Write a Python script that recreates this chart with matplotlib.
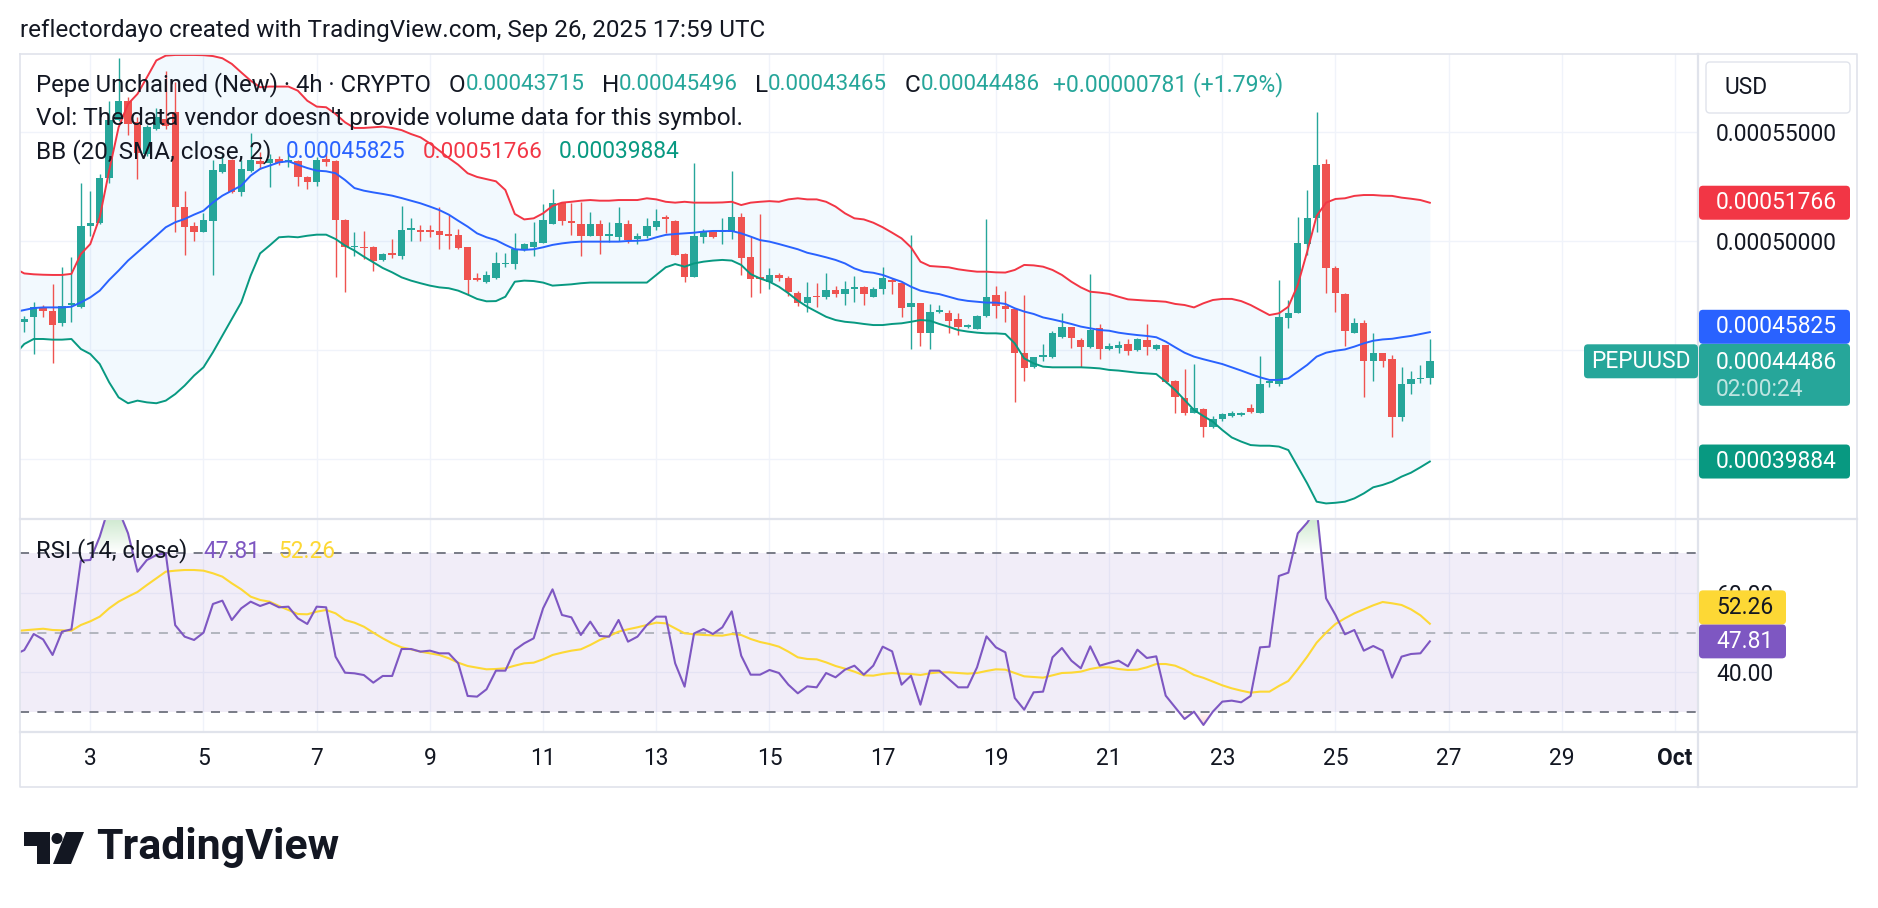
import numpy as np
import matplotlib
matplotlib.use("Agg")
import matplotlib.pyplot as plt
from matplotlib.patches import FancyBboxPatch, Polygon, Circle
from matplotlib.colors import LinearSegmentedColormap, to_rgb
from matplotlib.path import Path

plt.rcParams['font.family'] = ['Roboto', 'DejaVu Sans']
plt.rcParams['lines.scale_dashes'] = False

# ---------------- data (prices in units of 1e-5 USD) ----------------
UNIT = 1e-5
first_bar_day = 1 + 20 / 24      # Sep 1, 20:00 UTC (day of month)
bar_days = 4 / 24                # 4h bars

open_ = [46.27, 46.54, 46.93, 46.81, 46.26, 47.09, 46.96, 50.70, 50.82, 52.90,
         55.57, 56.45, 55.46, 54.00, 55.15, 55.60, 55.92, 51.59, 50.71, 50.44,
         50.94, 53.16, 53.73, 52.24, 53.21, 53.67, 53.57, 53.77, 53.62, 53.67,
         52.96, 52.73, 53.77, 53.67, 50.97, 49.72, 49.75, 49.75, 49.14, 49.44,
         49.34, 50.52, 50.52, 50.52, 50.48, 50.33, 50.28, 49.75, 48.31, 48.11,
         48.31, 48.95, 48.95, 49.60, 49.75, 49.93, 50.79, 51.74, 50.94, 50.79,
         50.24, 50.79, 50.24, 50.18, 50.79, 50.09, 50.24, 50.67, 51.10, 50.94,
         49.41, 48.37, 50.21, 50.44, 50.44, 50.44, 51.10, 49.26, 48.34, 48.14,
         48.45, 48.29, 47.64, 47.15, 47.48, 47.42, 47.76, 47.57, 47.79, 47.91,
         47.45, 47.79, 48.22, 48.07, 46.99, 47.15, 45.77, 46.76, 46.72, 46.41,
         46.05, 45.98, 46.57, 47.53, 47.03, 46.87, 44.88, 44.21, 44.70, 44.67,
         45.62, 46.05, 45.46, 45.16, 46.00, 45.03, 45.08, 45.28, 45.00, 45.46,
         45.03, 45.23, 43.60, 42.78, 42.13, 42.28, 41.45, 41.82, 41.97, 42.02,
         42.33, 42.10, 43.47, 43.44, 46.46, 46.69, 49.87, 51.05, 53.54, 48.75,
         47.58, 45.80, 46.23, 44.52, 44.85, 44.58, 41.91, 43.44, 43.66, 43.715]
high = [46.58, 47.19, 47.09, 48.04, 48.80, 49.26, 52.66, 52.32, 53.09, 56.45,
        58.41, 56.64, 55.69, 55.35, 56.12, 57.83, 57.29, 52.32, 50.87, 51.28,
        53.73, 54.00, 53.77, 53.73, 54.95, 54.08, 54.00, 53.93, 54.00, 53.73,
        53.01, 53.85, 54.00, 53.73, 51.02, 50.41, 50.45, 49.80, 49.44, 50.10,
        51.63, 51.06, 50.76, 50.76, 51.55, 51.22, 50.56, 49.75, 48.52, 48.62,
        49.49, 49.47, 50.36, 49.90, 50.90, 51.71, 52.38, 51.81, 51.77, 51.81,
        51.35, 50.97, 50.90, 51.59, 50.97, 50.36, 51.05, 51.46, 51.20, 50.97,
        49.44, 53.60, 50.54, 50.48, 51.05, 53.24, 51.28, 50.18, 51.25, 48.75,
        48.55, 48.40, 47.73, 48.14, 48.07, 48.52, 47.94, 48.19, 48.40, 47.94,
        47.91, 48.83, 48.29, 48.14, 50.29, 47.18, 47.12, 47.07, 46.84, 46.72,
        46.20, 46.61, 51.02, 47.94, 47.73, 46.92, 47.53, 44.70, 45.28, 45.89,
        46.69, 46.08, 45.54, 48.50, 46.20, 45.34, 45.43, 45.49, 45.54, 46.20,
        45.28, 45.23, 43.63, 44.12, 44.36, 42.33, 41.97, 42.10, 42.22, 42.17,
        42.53, 44.73, 43.63, 48.22, 47.30, 51.10, 52.35, 55.95, 53.76, 48.86,
        47.64, 46.46, 46.38, 45.77, 44.88, 44.78, 44.24, 44.06, 44.31, 45.496]
low = [45.82, 44.82, 46.54, 44.39, 46.12, 46.27, 46.93, 50.25, 50.79, 52.66,
       55.54, 54.89, 52.86, 53.93, 55.10, 55.15, 50.41, 49.38, 50.03, 50.41,
       48.46, 53.12, 52.20, 52.09, 53.16, 53.32, 52.47, 53.51, 53.42, 52.55,
       52.40, 52.55, 53.47, 48.34, 47.65, 49.34, 49.18, 48.62, 49.11, 49.23,
       49.18, 50.03, 50.03, 50.21, 49.64, 49.64, 49.64, 47.55, 48.16, 48.07,
       48.26, 48.80, 48.71, 49.55, 49.32, 49.90, 50.79, 50.74, 50.28, 49.32,
       50.24, 49.41, 49.98, 50.02, 49.90, 49.87, 50.13, 50.51, 50.39, 49.37,
       48.14, 48.37, 49.90, 50.13, 49.85, 50.09, 48.45, 47.45, 47.64, 47.79,
       48.19, 47.48, 47.02, 46.76, 46.96, 47.33, 47.42, 47.07, 47.22, 47.07,
       47.42, 47.57, 47.57, 46.54, 45.04, 45.19, 45.04, 46.72, 45.77, 45.69,
       46.00, 45.95, 46.50, 46.46, 46.31, 42.63, 43.60, 44.16, 44.51, 44.62,
       45.54, 45.08, 44.21, 45.08, 44.58, 45.00, 44.85, 44.78, 44.98, 44.78,
       45.00, 43.47, 42.10, 42.02, 42.10, 41.03, 41.41, 41.76, 41.94, 41.97,
       42.10, 42.10, 43.29, 43.35, 46.00, 46.69, 49.37, 50.44, 47.64, 46.77,
       45.19, 45.77, 42.86, 43.60, 44.21, 41.03, 41.76, 42.98, 43.50, 43.465]
close = [46.43, 46.96, 46.78, 46.17, 47.01, 47.15, 50.68, 50.82, 52.90, 55.57,
         56.45, 55.38, 54.03, 55.23, 55.69, 55.30, 51.59, 50.67, 50.44, 50.97,
         53.27, 53.54, 52.24, 53.32, 53.73, 53.54, 53.77, 53.57, 53.73, 52.96,
         52.70, 53.73, 53.62, 50.97, 49.75, 49.80, 49.69, 49.11, 49.41, 49.35,
         50.52, 50.61, 50.42, 50.42, 50.30, 50.25, 49.69, 48.22, 48.22, 48.46,
         48.98, 49.01, 49.63, 49.85, 49.98, 50.97, 51.74, 50.94, 50.85, 50.24,
         50.79, 50.24, 50.33, 50.85, 50.06, 50.24, 50.70, 50.94, 51.00, 49.37,
         48.37, 50.24, 50.48, 50.21, 50.48, 51.10, 49.21, 48.25, 48.28, 48.45,
         48.29, 47.68, 47.18, 47.45, 47.42, 47.76, 47.57, 47.79, 47.91, 47.57,
         47.79, 48.29, 48.14, 46.92, 47.15, 45.80, 46.76, 46.84, 46.35, 46.05,
         46.14, 46.57, 47.42, 47.03, 46.87, 44.88, 44.16, 44.67, 44.78, 45.80,
         46.05, 45.54, 45.16, 45.92, 45.03, 45.19, 45.23, 44.98, 45.49, 45.16,
         45.23, 43.55, 42.83, 42.13, 42.33, 41.45, 41.82, 42.07, 42.13, 42.10,
         42.17, 43.44, 43.60, 46.50, 46.69, 49.90, 51.05, 53.50, 48.75, 47.60,
         45.89, 46.26, 44.52, 44.85, 44.52, 41.91, 43.44, 43.66, 43.705, 44.486]

# Bollinger Bands (20, SMA, close, 2) - one extra leading bar (partly off-screen)
bb_upper = [48.75, 48.52, 48.48, 48.46, 48.45, 48.45, 48.50, 49.41, 49.87, 51.10,
            53.24, 55.23, 56.30, 56.76, 57.52, 58.30, 58.52, 58.55, 58.55, 58.55,
            58.54, 58.50, 58.40, 58.14, 57.75, 57.37, 57.07, 57.10, 57.10, 57.10,
            56.91, 56.45, 56.18, 56.15, 55.84, 55.46, 55.20, 55.20, 55.23, 55.26,
            55.20, 55.10, 54.92, 54.77, 54.49, 54.16, 53.82, 53.51, 53.12, 52.95,
            52.85, 52.75, 52.35, 51.25, 51.00, 51.05, 51.28, 51.62, 51.77, 51.81,
            51.86, 51.89, 51.86, 51.86, 51.89, 51.89, 51.89, 51.97, 51.92, 51.81,
            51.77, 51.81, 51.77, 51.77, 51.77, 51.78, 51.81, 51.66, 51.77, 51.81,
            51.84, 51.81, 51.92, 51.97, 51.92, 51.92, 51.81, 51.59, 51.28, 51.05,
            51.00, 50.85, 50.64, 50.39, 50.13, 49.72, 49.06, 48.86, 48.83, 48.80,
            48.71, 48.65, 48.60, 48.60, 48.57, 48.56, 48.68, 48.91, 48.89, 48.83,
            48.68, 48.45, 48.14, 47.88, 47.68, 47.64, 47.58, 47.45, 47.33, 47.30,
            47.27, 47.25, 47.22, 47.12, 47.07, 46.96, 47.15, 47.30, 47.35, 47.35,
            47.25, 47.07, 46.84, 46.61, 46.69, 46.99, 47.99, 49.52, 51.16, 51.77,
            51.94, 51.97, 52.08, 52.12, 52.12, 52.09, 52.08, 52.00, 51.95, 51.89,
            51.766]
bb_basis = [46.75, 46.84, 46.93, 46.96, 46.96, 46.96, 46.99, 47.19, 47.42, 47.73,
            48.22, 48.65, 49.11, 49.49, 49.87, 50.25, 50.64, 50.87, 51.02, 51.22,
            51.40, 51.78, 52.09, 52.32, 52.55, 53.01, 53.32, 53.47, 53.62, 53.67,
            53.51, 53.36, 53.24, 53.21, 53.12, 52.81, 52.44, 52.32, 52.24, 52.17,
            52.09, 51.98, 51.86, 51.74, 51.59, 51.43, 51.22, 50.94, 50.67, 50.36,
            50.18, 50.05, 49.83, 49.63, 49.60, 49.63, 49.72, 49.83, 49.90, 49.95,
            49.98, 49.98, 49.98, 49.98, 49.98, 50.01, 50.02, 50.05, 50.18, 50.29,
            50.33, 50.36, 50.39, 50.44, 50.47, 50.47, 50.47, 50.36, 50.21, 50.05,
            49.98, 49.87, 49.75, 49.63, 49.47, 49.37, 49.26, 49.14, 48.98, 48.75,
            48.60, 48.55, 48.45, 48.29, 48.14, 47.91, 47.73, 47.64, 47.57, 47.45,
            47.33, 47.26, 47.22, 47.18, 47.18, 47.12, 46.92, 46.77, 46.66, 46.50,
            46.41, 46.31, 46.20, 46.08, 46.00, 45.92, 45.89, 45.80, 45.74, 45.69,
            45.65, 45.59, 45.39, 45.13, 44.88, 44.70, 44.58, 44.47, 44.36, 44.21,
            44.06, 43.90, 43.75, 43.63, 43.63, 43.70, 44.01, 44.32, 44.70, 44.88,
            44.97, 45.03, 45.16, 45.31, 45.43, 45.49, 45.52, 45.59, 45.65, 45.74,
            45.825]
bb_lower = [44.80, 45.28, 45.51, 45.51, 45.48, 45.48, 45.51, 45.05, 44.82, 44.36,
            43.52, 42.83, 42.56, 42.68, 42.60, 42.56, 42.68, 42.98, 43.37, 43.83,
            44.21, 44.90, 45.66, 46.43, 47.19, 48.42, 49.44, 49.80, 50.18, 50.21,
            50.18, 50.25, 50.30, 50.30, 50.10, 49.80, 49.57, 49.29, 49.03, 48.77,
            48.57, 48.34, 48.19, 48.07, 47.96, 47.88, 47.84, 47.73, 47.55, 47.35,
            47.24, 47.25, 47.45, 48.14, 48.19, 48.17, 48.10, 47.96, 47.99, 48.02,
            48.07, 48.10, 48.10, 48.10, 48.10, 48.10, 48.10, 48.10, 48.45, 48.80,
            48.95, 48.83, 48.98, 49.06, 49.11, 49.14, 49.11, 48.91, 48.49, 48.29,
            48.14, 47.91, 47.61, 47.27, 46.99, 46.76, 46.53, 46.38, 46.30, 46.26,
            46.20, 46.15, 46.15, 46.20, 46.23, 46.30, 46.38, 46.35, 46.20, 46.07,
            45.92, 45.85, 45.80, 45.77, 45.77, 45.74, 45.31, 44.62, 44.39, 44.24,
            44.21, 44.21, 44.21, 44.21, 44.19, 44.16, 44.09, 44.06, 44.01, 43.96,
            43.93, 43.90, 43.55, 43.17, 42.71, 42.25, 41.97, 41.71, 41.33, 40.99,
            40.80, 40.64, 40.61, 40.61, 40.57, 40.41, 39.65, 38.88, 38.04, 37.96,
            37.99, 38.04, 38.19, 38.42, 38.70, 38.81, 38.96, 39.19, 39.37, 39.62,
            39.884]

# RSI (14, close) and its moving average, same leading bar
rsi = [44.50, 45.60, 49.67, 48.30, 44.37, 50.26, 50.85, 68.19, 68.36, 74.25,
       82.00, 81.00, 75.10, 65.40, 68.36, 69.60, 70.04, 51.90, 49.00, 48.16,
       50.00, 57.25, 58.09, 53.20, 56.15, 57.84, 56.74, 57.58, 56.41, 56.57,
       53.63, 52.20, 56.57, 56.41, 43.95, 39.90, 39.74, 39.30, 37.38, 39.07,
       39.07, 45.88, 45.88, 45.21, 45.46, 44.79, 44.79, 42.26, 34.02, 33.85,
       35.70, 40.41, 40.41, 45.63, 47.31, 48.58, 56.15, 60.95, 54.47, 53.88,
       49.42, 52.79, 49.17, 49.00, 53.21, 47.73, 49.00, 51.94, 54.05, 54.05,
       42.26, 36.37, 49.80, 50.93, 49.67, 51.35, 55.39, 44.20, 39.40, 39.40,
       40.58, 39.82, 36.87, 34.69, 36.45, 36.20, 39.82, 38.73, 40.66, 41.67,
       39.40, 41.67, 46.47, 45.29, 36.87, 39.15, 31.82, 40.41, 40.41, 38.31,
       36.20, 36.20, 41.25, 49.08, 46.30, 45.04, 33.51, 30.56, 34.94, 35.11,
       43.78, 46.13, 42.94, 41.00, 46.55, 41.67, 42.35, 42.94, 41.50, 45.71,
       43.61, 44.03, 34.10, 31.15, 28.20, 30.06, 26.70, 30.06, 32.59, 32.84,
       32.42, 34.02, 46.30, 46.47, 64.32, 65.16, 75.09, 77.79, 81.50, 58.68,
       54.47, 49.59, 50.68, 45.46, 46.64, 45.46, 38.64, 43.95, 44.62, 44.79,
       47.81]
rsi_ma = [50.40, 50.60, 50.80, 51.00, 50.68, 50.60, 50.51, 51.94, 52.87, 54.05,
          56.15, 57.84, 59.10, 60.28, 62.04, 63.73, 65.41, 65.66, 65.83, 65.83,
          65.66, 65.00, 64.15, 62.47, 60.95, 59.10, 58.26, 57.84, 56.74, 55.73,
          54.72, 54.64, 55.31, 55.73, 54.89, 53.21, 52.53, 51.52, 50.01, 48.58,
          47.31, 46.30, 45.80, 45.21, 44.79, 44.37, 43.53, 42.43, 41.59, 41.17,
          40.75, 40.83, 41.00, 41.67, 42.26, 42.43, 43.27, 44.37, 44.96, 45.46,
          45.80, 46.89, 48.16, 49.17, 50.26, 50.85, 51.36, 51.94, 52.53, 52.36,
          51.10, 49.84, 49.60, 49.42, 49.33, 49.25, 49.67, 49.42, 48.41, 47.65,
          47.14, 46.47, 45.21, 43.78, 43.36, 43.27, 42.51, 41.59, 40.92, 40.16,
          39.23, 39.15, 39.57, 39.82, 39.65, 39.57, 39.32, 39.74, 39.99, 39.99,
          39.82, 39.65, 39.82, 40.33, 40.75, 40.66, 39.82, 38.98, 38.81, 38.64,
          39.23, 39.82, 39.91, 40.16, 40.83, 41.25, 41.25, 40.83, 40.58, 40.66,
          41.25, 42.09, 42.09, 41.67, 40.66, 39.32, 38.60, 37.64, 36.71, 35.95,
          35.36, 34.86, 35.11, 35.11, 36.54, 37.80, 40.75, 43.95, 47.48, 50.01,
          52.20, 53.63, 54.89, 55.90, 56.91, 57.75, 57.42, 57.00, 55.90, 54.39,
          52.26]

day_ticks = [3, 5, 7, 9, 11, 13, 15, 17, 19, 21, 23, 25, 27, 29, 31]
day_labels = ['3', '5', '7', '9', '11', '13', '15', '17', '19', '21', '23', '25', '27', '29', 'Oct']
price_ticks = [40, 45, 50, 55]
price_tick_shown = [False, False, True, True]   # lower ones sit behind value labels
rsi_ticks = [40, 60]

TITLE = "reflectordayo created with TradingView.com, Sep 26, 2025 17:59 UTC"
SYMBOL = "Pepe Unchained (New) \u00b7 4h \u00b7 CRYPTO"
VOL_TXT = "Vol: The data vendor doesn't provide volume data for this symbol."
TICKER = "PEPUUSD"
COUNTDOWN = "02:00:24"

# ---------------- style ----------------
UP, DN = '#26a69a', '#ef5350'
TXT = '#131722'
BB_UP, BB_MID, BB_LO = '#f23645', '#2962ff', '#089981'
RSI_C, MA_C = '#7e57c2', '#fdd835'
GRID = '#f0f3fa'
BORDER = '#e0e3eb'

W, H = 1878, 908
fig = plt.figure(figsize=(W / 100, H / 100), dpi=100)
fig.patch.set_facecolor('white')

PL, PR, FR = 20, 1698, 1857
TOP, SPLIT, RB, AB = 54, 519, 732, 787


def rect(l, t, r, b):
    return [l / W, 1 - b / H, (r - l) / W, (b - t) / H]


ax = fig.add_axes(rect(PL, TOP, PR, SPLIT))
ar = fig.add_axes(rect(PL, SPLIT, PR, RB), sharex=ax)

n = len(close)
xb = first_bar_day + bar_days * np.arange(n)
xl = first_bar_day + bar_days * np.arange(-1, n)

o = np.array(open_) * UNIT
hi = np.array(high) * UNIT
lo = np.array(low) * UNIT
c = np.array(close) * UNIT
cols = np.where(c >= o, UP, DN)

bu = np.array(bb_upper) * UNIT
bm = np.array(bb_basis) * UNIT
bl = np.array(bb_lower) * UNIT

# ---- price pane ----
ax.fill_between(xl, bl, bu, color='#2196f3', alpha=0.055, lw=0, zorder=1)
ax.vlines(xb, lo, hi, colors=cols, lw=1.0, zorder=3)
ax.bar(xb, np.maximum(np.abs(c - o), 0.055 * UNIT), bottom=np.minimum(o, c),
       width=0.78 * bar_days, color=cols, lw=0, zorder=4)
ax.plot(xl, bu, color=BB_UP, lw=1.4, zorder=5)
ax.plot(xl, bm, color=BB_MID, lw=1.4, zorder=5)
ax.plot(xl, bl, color=BB_LO, lw=1.4, zorder=5)

XL = (1.758, 31.4046)
ax.set_xlim(*XL)
ax.set_ylim(37.245 * UNIT, 58.595 * UNIT)
ax.set_xticks(day_ticks)
ax.set_yticks(np.array(price_ticks) * UNIT)
ax.set_yticklabels([f"{v * UNIT:.8f}" if s else "" for v, s in zip(price_ticks, price_tick_shown)])
ax.yaxis.tick_right()
ax.grid(True, color=GRID, lw=1.0)
ax.set_axisbelow(True)
for sp in ax.spines.values():
    sp.set_visible(False)

# ---- RSI pane ----
r = np.array(rsi)
rm = np.array(rsi_ma)
RY = (24.92, 78.71)
ar.axhspan(30, 70, color=RSI_C, alpha=0.1, lw=0, zorder=0.8)


def grad_fill(level, above, rgb):
    if above:
        coll = ar.fill_between(xl, level, r, where=r > level, interpolate=True,
                               facecolor='none', edgecolor='none')
        cm = LinearSegmentedColormap.from_list('g', [(*rgb, 0.0), (*rgb, 0.38)])
        ext = [xl[0], xl[-1], level, max(r.max(), RY[1])]
    else:
        coll = ar.fill_between(xl, r, level, where=r < level, interpolate=True,
                               facecolor='none', edgecolor='none')
        cm = LinearSegmentedColormap.from_list('g', [(*rgb, 0.38), (*rgb, 0.0)])
        ext = [xl[0], xl[-1], min(r.min(), RY[0]), level]
    paths = coll.get_paths()
    if not paths:
        return
    img = np.linspace(0, 1, 256).reshape(-1, 1)
    im = ar.imshow(img, extent=ext, origin='lower', cmap=cm, aspect='auto',
                   zorder=1.5, interpolation='bilinear')
    im.set_clip_path(Path.make_compound_path(*paths), transform=ar.transData)


grad_fill(70, True, to_rgb('#4caf50'))
grad_fill(30, False, to_rgb('#f23645'))

ar.axhline(70, color='#787b86', lw=1.4, linestyle=(0, (6.5, 6.0)), zorder=2)
ar.axhline(30, color='#787b86', lw=1.4, linestyle=(0, (6.5, 6.0)), zorder=2)
ar.axhline(50, color='#b2b5be', lw=1.4, linestyle=(0, (6.5, 6.0)), zorder=2)
ar.plot(xl, rm, color=MA_C, lw=1.5, zorder=3)
ar.plot(xl, r, color=RSI_C, lw=1.5, zorder=4)

ar.set_xlim(*XL)
ar.set_ylim(*RY)
ar.set_yticks(rsi_ticks)
ar.set_yticklabels([f"{v:.2f}" for v in rsi_ticks])
ar.yaxis.tick_right()
ar.grid(True, color=GRID, lw=1.0)
ar.set_axisbelow(True)
for sp in ar.spines.values():
    sp.set_visible(False)
ar.set_xticks(day_ticks)
ar.set_xticklabels(day_labels)

# ---- overlay in pixel coordinates ----
ov = fig.add_axes([0, 0, 1, 1], zorder=10)
ov.set_xlim(0, W)
ov.set_ylim(H, 0)
ov.axis('off')

R = fig.canvas.get_renderer()


def tw(t):
    return t.get_window_extent(renderer=R).width


def put(x, y, s, color=TXT, size=16, **kw):
    return ov.text(x, y, s, color=color, fontsize=size, va='center', ha='left', **kw)


def put_fit(x, y, s, color, width, **kw):
    t = put(x, y, s, color, 16, **kw)
    t.set_fontsize(16 * width / tw(t))
    return t


# fit font sizes to the reference widths
put_fit(20, 31, TITLE, TXT, 747)
t_vol = put_fit(36, 119, VOL_TXT, TXT, 709)
FS = t_vol.get_fontsize()
tmp = put(0, 0, "0.00055000", size=16)
FSS = 16 * 121 / tw(tmp)
tmp.remove()

ax.tick_params(axis='y', length=0, pad=13, labelsize=FSS, labelcolor=TXT)
ax.tick_params(axis='x', length=0, labelbottom=False)
ar.tick_params(axis='y', length=0, pad=13, labelsize=FSS, labelcolor=TXT)
ar.tick_params(axis='x', length=0, pad=11, labelsize=FSS, labelcolor=TXT)


def fmt(v):
    return f"{v * UNIT:.8f}"


def ohlc_item(x, letter, value):
    t = put(x, 85, letter, TXT, FS)
    put_fit(x + tw(t), 85, fmt(value), UP, 119)


chg = close[-1] - close[-2]
pct = chg / close[-2] * 100
put_fit(36, 85, SYMBOL, TXT, 396)
ohlc_item(449, "O", open_[-1])
ohlc_item(602, "H", high[-1])
ohlc_item(755, "L", low[-1])
ohlc_item(905, "C", close[-1])
put_fit(1053, 85, f"{chg * UNIT:+.8f} ({pct:+.2f}%)", UP, 231)

put_fit(36, 152, "BB (20, SMA, close, 2)", TXT, 236)
put_fit(286, 152, fmt(bb_basis[-1]), BB_MID, 120)
put_fit(423, 152, fmt(bb_upper[-1]), BB_UP, 120)
put_fit(559, 152, fmt(bb_lower[-1]), BB_LO, 121)

put_fit(36, 551, "RSI (14, close)", TXT, 152)
put_fit(203, 551, f"{rsi[-1]:.2f}", RSI_C, 57)
put_fit(278, 551, f"{rsi_ma[-1]:.2f}", MA_C, 57)

# frame and separators
ov.plot([PL, FR, FR, PL, PL], [TOP, TOP, AB, AB, TOP], color=BORDER, lw=1.2)
ov.plot([PL, FR], [SPLIT, SPLIT], color=BORDER, lw=1.6)
ov.plot([PL, FR], [RB, RB], color=BORDER, lw=1.6)
ov.plot([PR, PR], [TOP, AB], color=BORDER, lw=1.6)


def ypx(axes, v):
    return H - axes.transData.transform((XL[0], v))[1]


def box(x0, x1, y0, y1, color, ec='none'):
    ov.add_patch(FancyBboxPatch((x0, y0), x1 - x0, y1 - y0,
                                boxstyle="round,pad=0,rounding_size=4",
                                fc=color, ec=ec, lw=1.0, zorder=3))


# USD box
box(1706, 1850, 62, 113, 'white', ec=BORDER)
put(1725, 88, "USD", TXT, FSS)

BX0, BX1, BH = 1699, 1850, 34
y_up = ypx(ax, bu[-1])
y_cl = ypx(ax, c[-1])
y_mid = ypx(ax, bm[-1])
y_lo = ypx(ax, bl[-1])

# current price (with countdown)
teal_top = y_cl - 17.5
box(BX0, BX1, teal_top, y_cl + 44.5, UP)
put(1716, y_cl + 1.5, fmt(close[-1]), 'white', FSS, zorder=4)
put(1716, y_cl + 28.5, COUNTDOWN, (1, 1, 1, 0.7), FSS, zorder=4)
# basis label, pushed up to avoid overlap
mb = min(y_mid + BH / 2, teal_top)
box(BX0, BX1, mb - BH, mb, BB_MID)
put(1716, mb - BH / 2, fmt(bb_basis[-1]), 'white', FSS, zorder=4)
# upper & lower
box(BX0, BX1, y_up - BH / 2, y_up + BH / 2, BB_UP)
put(1716, y_up, fmt(bb_upper[-1]), 'white', FSS, zorder=4)
box(BX0, BX1, y_lo - BH / 2, y_lo + BH / 2, BB_LO)
put(1716, y_lo, fmt(bb_lower[-1]), 'white', FSS, zorder=4)

# ticker label on the chart
box(1584, 1698, y_cl - 17, y_cl + 17, UP)
ov.text(1641, y_cl, TICKER, color='white', fontsize=FSS, ha='center', va='center', zorder=4)

# RSI labels
y_r = ypx(ar, rsi[-1])
y_m = ypx(ar, rsi_ma[-1])
RX1 = 1786
box(BX0, RX1, y_r - BH / 2, y_r + BH / 2, RSI_C)
put(1716, y_r, f"{rsi[-1]:.2f}", 'white', FSS, zorder=4)
yb = min(y_m + BH / 2, y_r - BH / 2)
box(BX0, RX1, yb - BH, yb, MA_C)
put(1716, yb - BH / 2, f"{rsi_ma[-1]:.2f}", TXT, FSS, zorder=4)

# TradingView logo
ov.add_patch(Polygon([(24, 832), (50, 832), (50, 864), (37, 864), (37, 846), (24, 846)],
                     closed=True, fc=TXT, ec='none'))
ov.add_patch(Circle((57, 838.5), 5.5, fc=TXT, ec='none'))
ov.add_patch(Polygon([(66, 832), (84, 832), (71, 864), (53, 864)], closed=True, fc=TXT, ec='none'))
t_logo = ov.text(96, 848, "TradingView", color=TXT, fontsize=30, fontweight='bold',
                 va='center', ha='left')
t_logo.set_fontsize(30 * 243 / tw(t_logo))

fig.canvas.draw()
ticks = ar.xaxis.get_major_ticks()
ticks[-1].label1.set_fontweight('bold')

fig.savefig("out.png", dpi=100, facecolor='white')
